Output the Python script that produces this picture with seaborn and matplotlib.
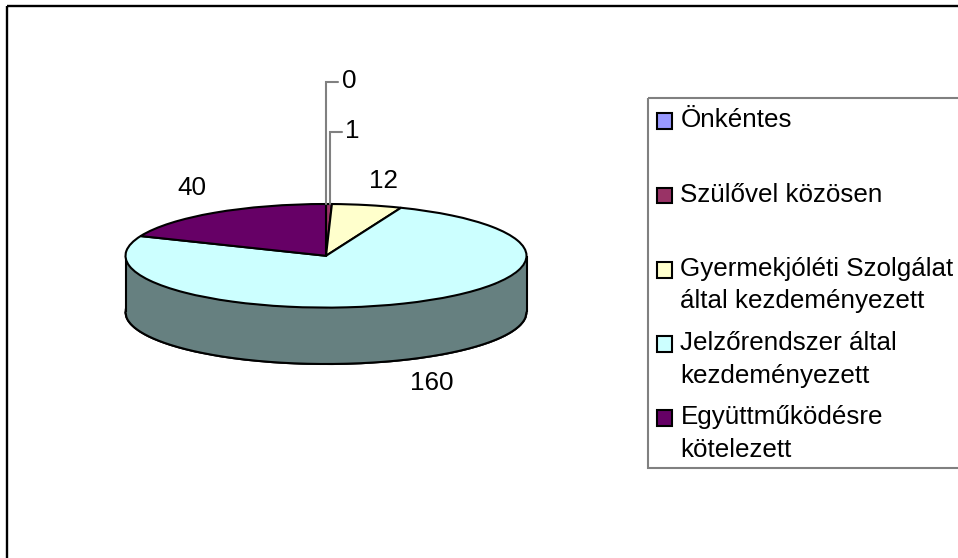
import numpy as np
import matplotlib
matplotlib.use("Agg")
import matplotlib.pyplot as plt
from matplotlib.patches import Patch, Rectangle
from matplotlib.legend_handler import HandlerPatch
import seaborn as sns

categories = ["Önkéntes", "Szülővel közösen",
              "Gyermekjóléti Szolgálat\náltal kezdeményezett",
              "Jelzőrendszer által\nkezdeményezett",
              "Együttműködésre\nkötelezett"]
values = [0, 1, 12, 160, 40]
top_colors = ["#9999FF", "#993366", "#FFFFCC", "#CCFFFF", "#660066"]
wall_colors = ["#4C4C80", "#4C1933", "#808066", "#668080", "#330033"]

W, H = 958, 558
sns.set_theme(style="white")
plt.rcParams["font.family"] = ["Liberation Sans", "DejaVu Sans"]
FS = 18.7
LW = 1.5
GREY = "#808080"
fig = plt.figure(figsize=(W / 100, H / 100), dpi=100, facecolor="white")

# full-figure overlay in pixel coordinates for frame, labels and leaders
ov = fig.add_axes([0, 0, 1, 1], zorder=3)
ov.set_xlim(0, W); ov.set_ylim(H, 0); ov.axis("off")
ov.add_patch(Rectangle((7.5, 5.5), W + 20, H + 20, fill=False, ec="black", lw=1.7))
ov.add_patch(Rectangle((648, 97.5), W, 370.5, fill=False, ec=GREY, lw=LW))

# pie axes: the ellipse comes from stretching the axes (auto aspect)
L, R, T, B = 125.5, 526.5, 204, 364
ry_px = 51.8
depth = (B - T - 2 * ry_px) / ry_px
ax = fig.add_axes([L / W, 1 - B / H, (R - L) / W, (B - T) / H], zorder=2)
edge = dict(edgecolor="black", linewidth=LW)
ax.pie(values, colors=wall_colors, startangle=90, counterclock=False,
       center=(0, -depth), radius=1, wedgeprops=edge)
x = np.linspace(-1, 1, 400)
arc = np.sqrt(1 - x ** 2)
ax.fill_between(x, -arc - depth, -arc, color=wall_colors[3], lw=0, zorder=3)
ax.plot(x, -arc - depth, color="black", lw=LW, zorder=4, clip_on=False)
ax.vlines([-1, 1], [-depth, -depth], [0, 0], color="black", lw=LW, zorder=4, clip_on=False)
wedges, _ = ax.pie(values, colors=top_colors, startangle=90, counterclock=False,
                   radius=1, wedgeprops=edge)
for w in wedges:
    w.set_zorder(5)
ax.set_aspect("auto")
ax.set_xlim(-1, 1)
ax.set_ylim(-1 - depth, 1)
for a in ax.patches:
    a.set_clip_on(False)

# data labels with leaders
label_pos = [(349.5, 81), (352.5, 131), (383, 181), (431.5, 383), (191.5, 188)]
for (lx, ly), v in zip(label_pos, values):
    ov.text(lx, ly, str(v), ha="center", va="center", fontsize=FS, color="black")
ov.plot([338, 326, 326], [82, 82, 204], color=GREY, lw=LW, solid_joinstyle="miter")
ov.plot([342, 330, 330], [132, 132, 204], color=GREY, lw=LW, solid_joinstyle="miter")


# legend: swatches sit beside the first text line
def swatch(legend, orig_handle, xdescent, ydescent, width, height, fontsize):
    return Rectangle((-xdescent, -ydescent - 3.6), width, height)


handles = [Patch(facecolor=c, edgecolor="black", linewidth=LW) for c in top_colors]
labels = [c if "\n" in c else c + "\n " for c in categories]
leg = fig.legend(handles, labels, loc="upper left",
                 handler_map={Patch: HandlerPatch(patch_func=swatch)},
                 bbox_to_anchor=(648 / W, 1 - 99.5 / H), frameon=False, fontsize=FS,
                 handlelength=0.58, handleheight=0.56, handletextpad=0.33,
                 labelspacing=0.68, borderpad=0.34, borderaxespad=0, labelcolor="black")
leg.set_zorder(4)
for hp in leg._legend_handle_box.get_children()[0].get_children():
    hp.align = "top"
for t in leg.get_texts():
    t.set_linespacing(1.45)

fig.savefig("out.png", dpi=100)
